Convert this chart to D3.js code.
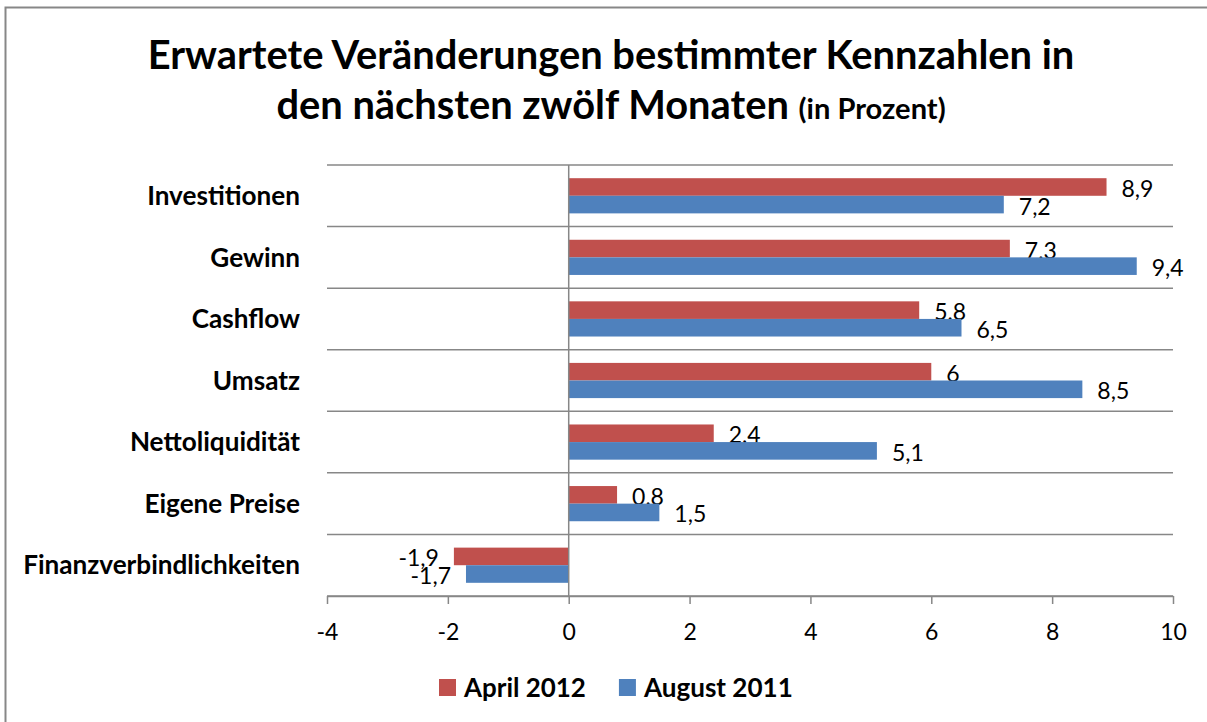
<!DOCTYPE html>
<html>
<head>
<meta charset="utf-8">
<script src="https://cdn.jsdelivr.net/npm/d3@7"></script>
<style>
  body { margin: 0; background: #fff; }
  text { font-family: Lato, "Open Sans", sans-serif; fill: #000; }
</style>
</head>
<body>
<div id="vis"></div>
<script>
const width = 1207;
const height = 722;

// data
const kategorien = ["Investitionen", "Gewinn", "Cashflow", "Umsatz", "Nettoliquidität", "Eigene Preise", "Finanzverbindlichkeiten"];
const april2012 = [8.9, 7.3, 5.8, 6, 2.4, 0.8, -1.9];
const august2011 = [7.2, 9.4, 6.5, 8.5, 5.1, 1.5, -1.7];
const serien = ["April 2012", "August 2011"];
const farben = ["#c0504d", "#4f81bd"];
const xTicks = [-4, -2, 0, 2, 4, 6, 8, 10];

const SVG = d3.select("#vis").append("svg").attr("width", width).attr("height", height);

// helper: scale font size so a text gets the wanted width
function fit(sel, target) {
  const w = sel.node().getComputedTextLength();
  const fs = parseFloat(sel.attr("font-size"));
  const nfs = fs * target / w;
  sel.attr("font-size", nfs);
  return nfs;
}
const komma = v => String(v).replace(".", ",");

// outer frame (runs off the right and bottom edge like the screenshot)
SVG.append("rect")
  .attr("x", 5.5).attr("y", 7.5)
  .attr("width", 1300).attr("height", 800)
  .attr("fill", "none").attr("stroke", "#878787").attr("stroke-width", 2);

const x = d3.scaleLinear().domain([-4, 10]).range([327, 1173]);
const y = d3.scaleBand().domain(kategorien).range([165, 596]).padding(0);
const ySub = d3.scaleBand().domain(serien).range([0, y.bandwidth()]).paddingInner(0).paddingOuter(0.75);

// title
const t1 = SVG.append("text")
  .attr("x", 611).attr("y", 69)
  .attr("text-anchor", "middle").attr("font-weight", "bold").attr("font-size", 36)
  .text("Erwartete Veränderungen bestimmter Kennzahlen in");
const titleSize = fit(t1, 927);

const t2 = SVG.append("text")
  .attr("x", 611).attr("y", 119)
  .attr("text-anchor", "middle").attr("font-weight", "bold").attr("font-size", titleSize);
t2.append("tspan").text("den nächsten zwölf Monaten ");
const klein = t2.append("tspan").attr("font-size", titleSize * 0.6).text("(in Prozent)");
const kw = klein.node().getComputedTextLength();
klein.attr("font-size", titleSize * 0.6 * 147 / kw);

// gridlines at category borders
const grenzen = kategorien.map(k => y(k)).concat([y.range()[1]]);
SVG.append("g").selectAll("line")
  .data(grenzen)
  .enter().append("line")
  .attr("x1", x(-4)).attr("x2", x(10))
  .attr("y1", d => d).attr("y2", d => d)
  .attr("stroke", "#878787").attr("stroke-width", 1.5);

// bars
const reihen = [april2012, august2011];
reihen.forEach((werte, i) => {
  const g = SVG.append("g");
  g.selectAll("rect")
    .data(werte)
    .enter().append("rect")
    .attr("x", d => x(Math.min(0, d)))
    .attr("width", d => Math.abs(x(d) - x(0)))
    .attr("y", (d, j) => y(kategorien[j]) + ySub(serien[i]))
    .attr("height", ySub.bandwidth())
    .attr("fill", farben[i]);

  g.selectAll("text")
    .data(werte)
    .enter().append("text")
    .attr("x", d => d < 0 ? x(d) - 15 : x(d) + 15)
    .attr("y", (d, j) => y(kategorien[j]) + ySub(serien[i]) + ySub.bandwidth() / 2 + 2)
    .attr("dy", "0.35em")
    .attr("text-anchor", d => d < 0 ? "end" : "start")
    .attr("font-size", 23)
    .text(d => komma(d));
});

// vertical axis line at zero
SVG.append("line")
  .attr("x1", x(0)).attr("x2", x(0))
  .attr("y1", 165).attr("y2", 596)
  .attr("stroke", "#878787").attr("stroke-width", 1.5);

// x axis
const xAxis = SVG.append("g")
  .attr("transform", "translate(0,596)")
  .call(d3.axisBottom(x).tickValues(xTicks).tickSize(8).tickSizeOuter(0).tickFormat(d => String(d)));
xAxis.select(".domain").attr("stroke", "#878787").attr("stroke-width", 1.5);
xAxis.selectAll(".tick line").attr("stroke", "#878787").attr("stroke-width", 1.5);
xAxis.selectAll(".tick text")
  .attr("y", 36).attr("dy", "0.35em")
  .attr("font-size", 23).attr("font-family", "Lato, sans-serif").attr("fill", "#000");

// category labels
const labels = SVG.append("g").selectAll("text")
  .data(kategorien)
  .enter().append("text")
  .attr("x", 300)
  .attr("y", d => y(d) + y.bandwidth() / 2)
  .attr("dy", "0.35em")
  .attr("text-anchor", "end")
  .attr("font-weight", "bold")
  .attr("font-size", 22)
  .text(d => d);
const longest = labels.filter(d => d === "Finanzverbindlichkeiten");
const catSize = fit(longest, 277);
labels.attr("font-size", catSize);

// legend
const legende = SVG.append("g");
let lx = 439;
serien.forEach((s, i) => {
  legende.append("rect")
    .attr("x", lx).attr("y", 679)
    .attr("width", 17).attr("height", 17)
    .attr("fill", farben[i]);
  const lt = legende.append("text")
    .attr("x", lx + 25).attr("y", 688).attr("dy", "0.35em")
    .attr("font-weight", "bold").attr("font-size", 22)
    .text(s);
  if (i === 1) fit(lt, 149); else fit(lt, 122);
  lx = lx + 25 + lt.node().getComputedTextLength() + 33;
});
</script>
</body>
</html>
